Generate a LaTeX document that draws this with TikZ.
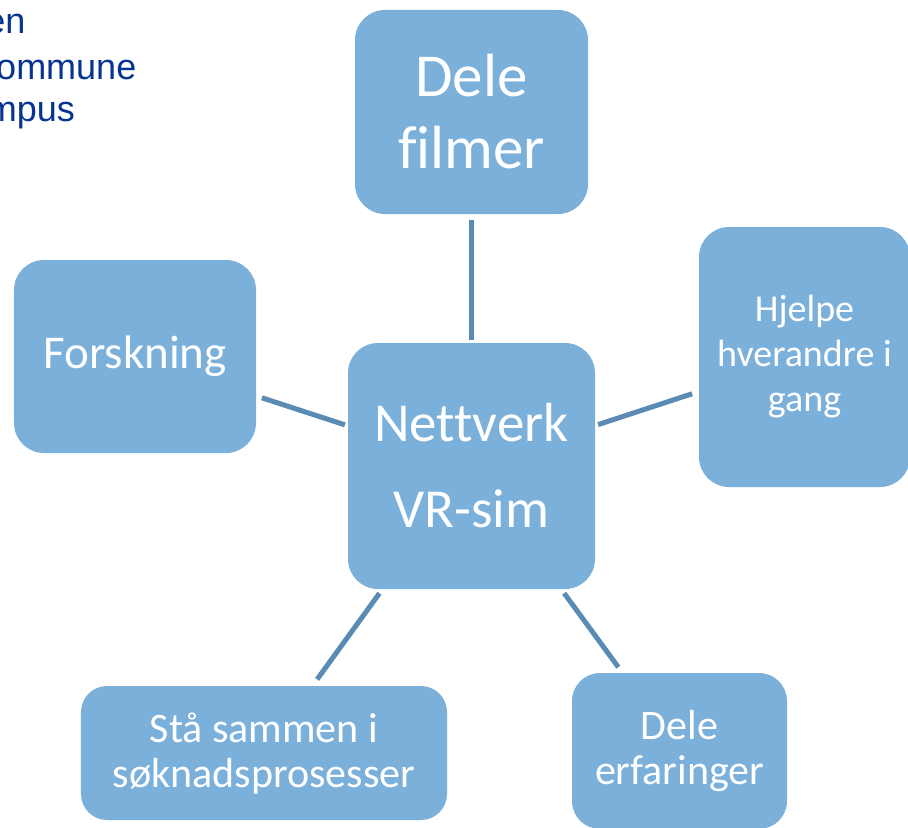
\documentclass[tikz,border=0pt]{standalone}
\usepackage{fontspec}
\setmainfont{Carlito}[Ligatures=NoCommon]
\newfontfamily\arialfont{Liberation Sans}
\definecolor{boxfill}{RGB}{123,176,218}
\definecolor{linkcol}{RGB}{90,139,181}
\definecolor{titleblue}{RGB}{8,52,145}
\begin{document}
\begin{tikzpicture}[x=1bp,y=-1bp,
  box/.style={rectangle, rounded corners=30bp, fill=boxfill, text=white,
    align=center, inner sep=0pt},
  link/.style={draw=linkcol, line width=5bp, shorten <=4bp, shorten >=7bp},
  toptext/.style={anchor=base east, inner sep=0pt, text=titleblue,
    font=\arialfont\fontsize{36bp}{44bp}\selectfont}]
\useasboundingbox (0,0) rectangle (908,828);
\clip (0,0) rectangle (908,828);

\node[toptext] (tl1) at (25.5,33) {en};
\node[toptext] (tl2) at (136.5,79) {ommune};
\node[toptext] (tl3) at (75,121) {mpus};

\node[box, minimum width=233bp, minimum height=204bp,
  font=\fontsize{61bp}{72bp}\selectfont] (filmer) at (471.5,112) {Dele\\filmer};
\node[box, minimum width=242bp, minimum height=193bp,
  font=\fontsize{47bp}{56bp}\selectfont] (forsk) at (135,356.5) {Forskning};
\node[box, minimum width=247bp, minimum height=246bp,
  font=\fontsize{55bp}{86bp}\selectfont] (nett) at (471.5,466) {Nettverk\\VR-sim};
\node[box, minimum width=211bp, minimum height=260bp,
  font=\fontsize{38bp}{45bp}\selectfont] (hjelp) at (804.5,357) {Hjelpe\\hverandre i\\gang};
\node[box, rounded corners=26bp, minimum width=366bp, minimum height=134bp,
  font=\fontsize{42bp}{45bp}\selectfont] (staa) at (264,753) {Stå sammen i\\søknadsprosesser};
\node[box, rounded corners=28bp, minimum width=215bp, minimum height=156bp,
  font=\fontsize{42bp}{45bp}\selectfont] (erf) at (679.5,751) {Dele\\erfaringer};

\draw[link, shorten <=3bp, shorten >=6bp] (nett) -- (filmer);
\draw[link, shorten <=3bp, shorten >=6bp] (nett) -- (forsk);
\draw[link, shorten <=3bp, shorten >=7bp] (nett) -- (hjelp);
\draw[link, shorten <=5bp, shorten >=8bp] (nett) -- (staa);
\draw[link, shorten <=5bp, shorten >=7bp] (nett) -- (erf);
\end{tikzpicture}
\end{document}
